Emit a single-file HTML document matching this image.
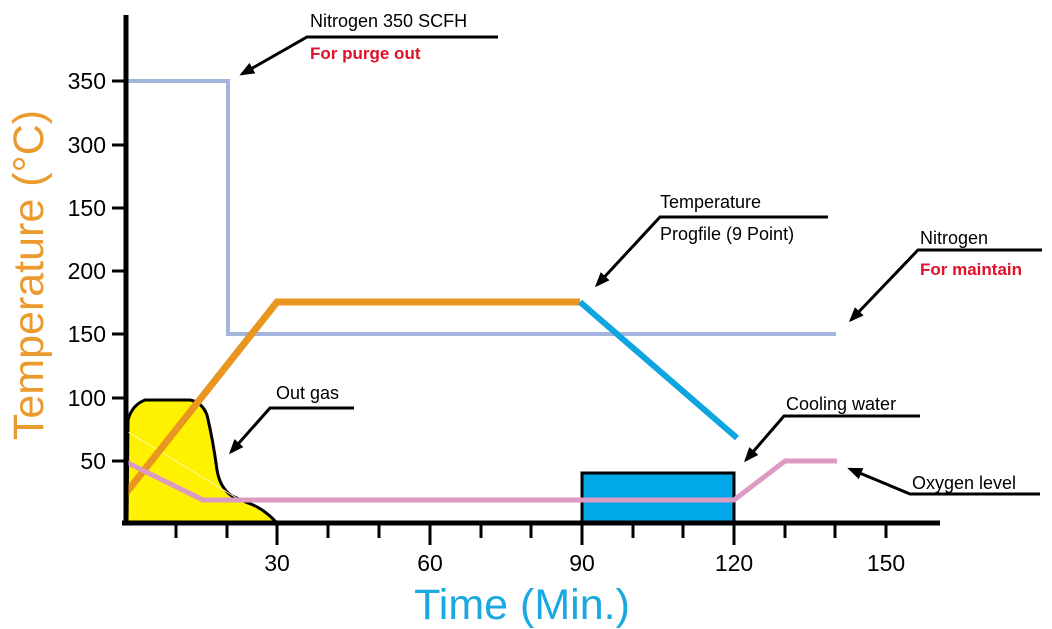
<!DOCTYPE html>
<html><head><meta charset="utf-8"><style>
html,body{margin:0;padding:0;background:#fff;}
svg{display:block;font-family:"Liberation Sans",sans-serif;}
</style></head><body>
<svg width="1052" height="629" viewBox="0 0 1052 629">
<defs><marker id="ah" viewBox="0 0 10 10" refX="8" refY="5" markerWidth="5" markerHeight="5" orient="auto-start-reverse"><path d="M0,1 L10,5 L0,9 z" fill="#000"/></marker></defs>
<path d="M127,522 L128,420 Q132,405 145,400 L190,400 Q202,402 207,415 Q213,440 217,470 Q220,488 232,496 L248,503 Q263,508 276,522 Z" fill="#fff200" stroke="#000" stroke-width="3"/>
<line x1="128" y1="432" x2="240" y2="500" stroke="#fffbb0" stroke-width="1"/>
<rect x="582" y="473" width="152" height="50" fill="#00a8e8" stroke="#000" stroke-width="3"/>
<polyline points="126,81 228,81 228,334 836,334" fill="none" stroke="#a3b4dd" stroke-width="4"/>
<polyline points="126,493 277,302 580,302" fill="none" stroke="#e8961f" stroke-width="7"/>
<line x1="580" y1="302" x2="737" y2="438" stroke="#0ea5e0" stroke-width="6"/>
<polyline points="126,462 203,500 734,500 785,461 837,461" fill="none" stroke="#dd9ac2" stroke-width="5"/>
<line x1="126" y1="15" x2="126" y2="525" stroke="#000" stroke-width="5"/>
<line x1="122" y1="523" x2="940" y2="523" stroke="#000" stroke-width="5"/>
<g stroke="#000" stroke-width="3">
<line x1="112" y1="81" x2="126" y2="81"/><line x1="112" y1="145" x2="126" y2="145"/><line x1="112" y1="208" x2="126" y2="208"/><line x1="112" y1="271" x2="126" y2="271"/><line x1="112" y1="334" x2="126" y2="334"/><line x1="112" y1="398" x2="126" y2="398"/><line x1="112" y1="461" x2="126" y2="461"/>
<line x1="176" y1="523" x2="176" y2="538"/><line x1="227" y1="523" x2="227" y2="538"/><line x1="277" y1="523" x2="277" y2="545"/><line x1="328" y1="523" x2="328" y2="538"/><line x1="379" y1="523" x2="379" y2="538"/><line x1="430" y1="523" x2="430" y2="545"/><line x1="481" y1="523" x2="481" y2="538"/><line x1="531" y1="523" x2="531" y2="538"/><line x1="582" y1="523" x2="582" y2="545"/><line x1="633" y1="523" x2="633" y2="538"/><line x1="683" y1="523" x2="683" y2="538"/><line x1="734" y1="523" x2="734" y2="545"/><line x1="785" y1="523" x2="785" y2="538"/><line x1="835" y1="523" x2="835" y2="538"/><line x1="886" y1="523" x2="886" y2="538"/>
</g>
<g font-size="23" text-anchor="end" fill="#000">
<text x="106" y="89">350</text><text x="106" y="153">300</text><text x="106" y="216">150</text><text x="106" y="279">200</text><text x="106" y="342">150</text><text x="106" y="406">100</text><text x="106" y="469">50</text>
</g>
<g font-size="23" text-anchor="middle" fill="#000">
<text x="277" y="571">30</text><text x="430" y="571">60</text><text x="582" y="571">90</text><text x="734" y="571">120</text><text x="886" y="571">150</text>
</g>
<text x="522" y="619" font-size="43" fill="#19a8e0" text-anchor="middle">Time (Min.)</text>
<text transform="translate(43,275) rotate(-90)" font-size="43" fill="#eb9a2e" text-anchor="middle">Temperature (°C)</text>
<g fill="none" stroke="#000" stroke-width="3">
<polyline points="498,37 307,37 242,74" marker-end="url(#ah)"/>
<polyline points="828,217 660,217 597,285" marker-end="url(#ah)"/>
<polyline points="1042,250 918,250 851,320" marker-end="url(#ah)"/>
<polyline points="354,408 270,408 231,452" marker-end="url(#ah)"/>
<polyline points="920,416 784,416 746,460" marker-end="url(#ah)"/>
<polyline points="1040,494 910,494 850,469" marker-end="url(#ah)"/>
</g>
<g font-size="18" fill="#000">
<text x="310" y="27">Nitrogen 350 SCFH</text>
<text x="660" y="208">Temperature</text>
<text x="660" y="240">Progfile (9 Point)</text>
<text x="920" y="244">Nitrogen</text>
<text x="276" y="399">Out gas</text>
<text x="786" y="410">Cooling water</text>
<text x="912" y="489">Oxygen level</text>
</g>
<g font-size="17" fill="#e0102a" font-weight="bold">
<text x="310" y="59">For purge out</text>
<text x="920" y="275">For maintain</text>
</g>
</svg>
</body></html>
